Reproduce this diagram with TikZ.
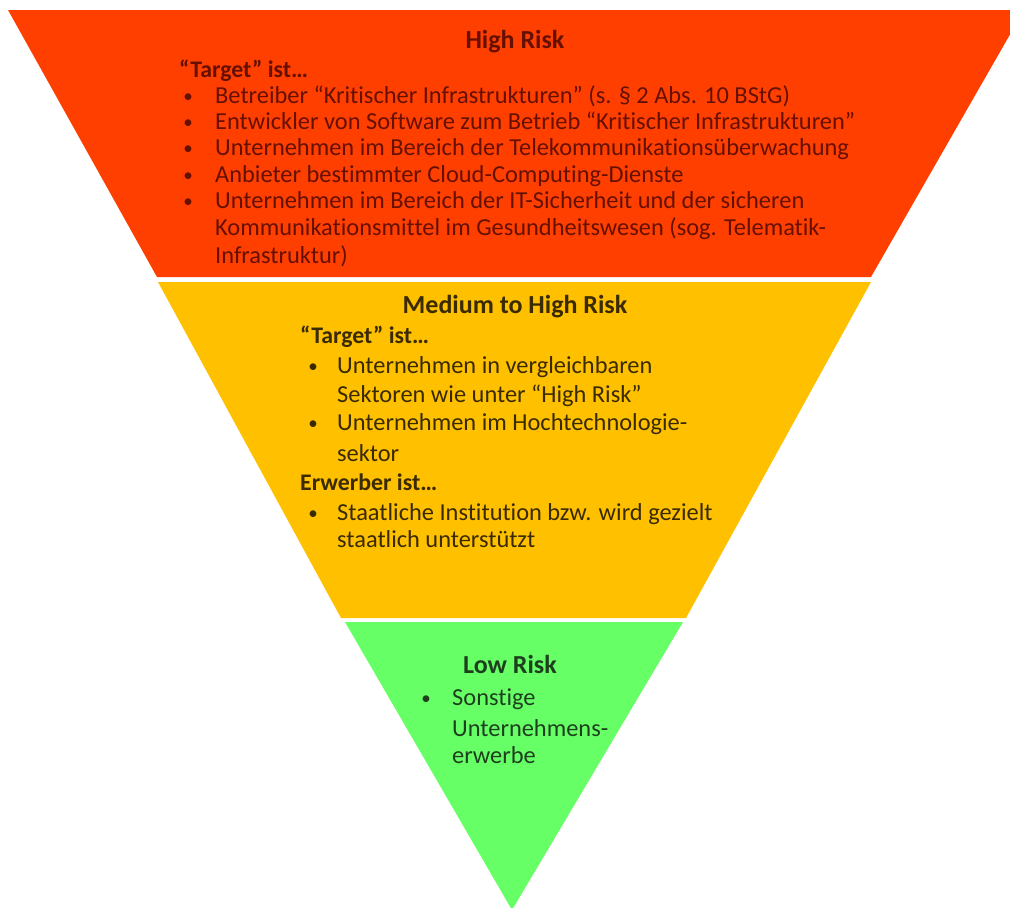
\documentclass[tikz,border=0pt]{standalone}
\usepackage{fontspec}
\setmainfont{Carlito}[Ligatures={NoCommon}]
\definecolor{redband}{HTML}{FF3F00}
\definecolor{orangeband}{HTML}{FFC000}
\definecolor{greenband}{HTML}{66FF66}
\definecolor{redtext}{HTML}{651000}
\definecolor{orangetext}{HTML}{3A2A00}
\definecolor{greentext}{HTML}{1E3F1E}
\tikzset{
  txt/.style={anchor=base west, inner sep=0pt, font=\fontsize{24.4}{28}\selectfont},
  sub/.style={anchor=base west, inner sep=0pt, font=\fontsize{23.8}{28}\selectfont\bfseries},
  head/.style={anchor=base, inner sep=0pt, font=\fontsize{26}{30}\selectfont\bfseries},
  bul/.style={anchor=base, inner sep=0pt, font=\fontsize{19}{24}\selectfont},
  hi/.style={text=redtext},
  mid/.style={text=orangetext},
  lo/.style={text=greentext}
}
\begin{document}
\begin{tikzpicture}[x=1pt,y=-1pt]
\useasboundingbox (0,0) rectangle (1010,908);
\begin{scope}
\clip (0,0) rectangle (1010,908);
\fill[redband] (8,10) -- (1024,10) -- (871,277) -- (157,277) -- cycle;
\fill[orangeband] (158,282) -- (871,282) -- (686,618) -- (341,618) -- cycle;
\fill[greenband] (345,622) -- (683,622) -- (512,910) -- cycle;
\end{scope}
% High Risk
\node[head,hi] (h0) at (515,48) {High Risk};
\node[sub,hi] (h1) at (179,77) {“Target” ist…};
\node[bul,hi] (hb1) at (188,102) {•};
\node[txt,hi] (h2) at (215,103) {Betreiber “Kritischer Infrastrukturen” (s. § 2 Abs. 10 BStG)};
\node[bul,hi] (hb2) at (188,128) {•};
\node[txt,hi] (h3) at (215,129) {Entwickler von Software zum Betrieb “Kritischer Infrastrukturen”};
\node[bul,hi] (hb3) at (188,154) {•};
\node[txt,hi] (h4) at (215,155) {Unternehmen im Bereich der Telekommunikationsüberwachung};
\node[bul,hi] (hb4) at (188,181) {•};
\node[txt,hi] (h5) at (215,182) {Anbieter bestimmter Cloud-Computing-Dienste};
\node[bul,hi] (hb5) at (188,207) {•};
\node[txt,hi] (h6) at (215,208) {Unternehmen im Bereich der IT-Sicherheit und der sicheren};
\node[txt,hi] (h7) at (215,235) {Kommunikationsmittel im Gesundheitswesen (sog. Telematik-};
\node[txt,hi] (h8) at (215,263) {Infrastruktur)};
% Medium to High Risk
\node[head,mid] (m0) at (515,313) {Medium to High Risk};
\node[sub,mid] (m1) at (300,343) {“Target” ist…};
\node[bul,mid] (mb1) at (313,372) {•};
\node[txt,mid] (m2) at (337,373) {Unternehmen in vergleichbaren};
\node[txt,mid] (m3) at (337,402) {Sektoren wie unter “High Risk”};
\node[bul,mid] (mb2) at (313,429) {•};
\node[txt,mid] (m4) at (337,430) {Unternehmen im Hochtechnologie-};
\node[txt,mid] (m5) at (337,461) {sektor};
\node[sub,mid] (m6) at (300,490) {Erwerber ist…};
\node[bul,mid] (mb3) at (313,519) {•};
\node[txt,mid] (m7) at (337,520) {Staatliche Institution bzw. wird gezielt};
\node[txt,mid] (m8) at (337,547) {staatlich unterstützt};
% Low Risk
\node[head,lo] (l0) at (510,673) {Low Risk};
\node[bul,lo] (lb1) at (426,704) {•};
\node[txt,lo] (l1) at (452,705) {Sonstige};
\node[txt,lo] (l2) at (452,736) {Unternehmens-};
\node[txt,lo] (l3) at (452,763) {erwerbe};
\end{tikzpicture}
\end{document}
